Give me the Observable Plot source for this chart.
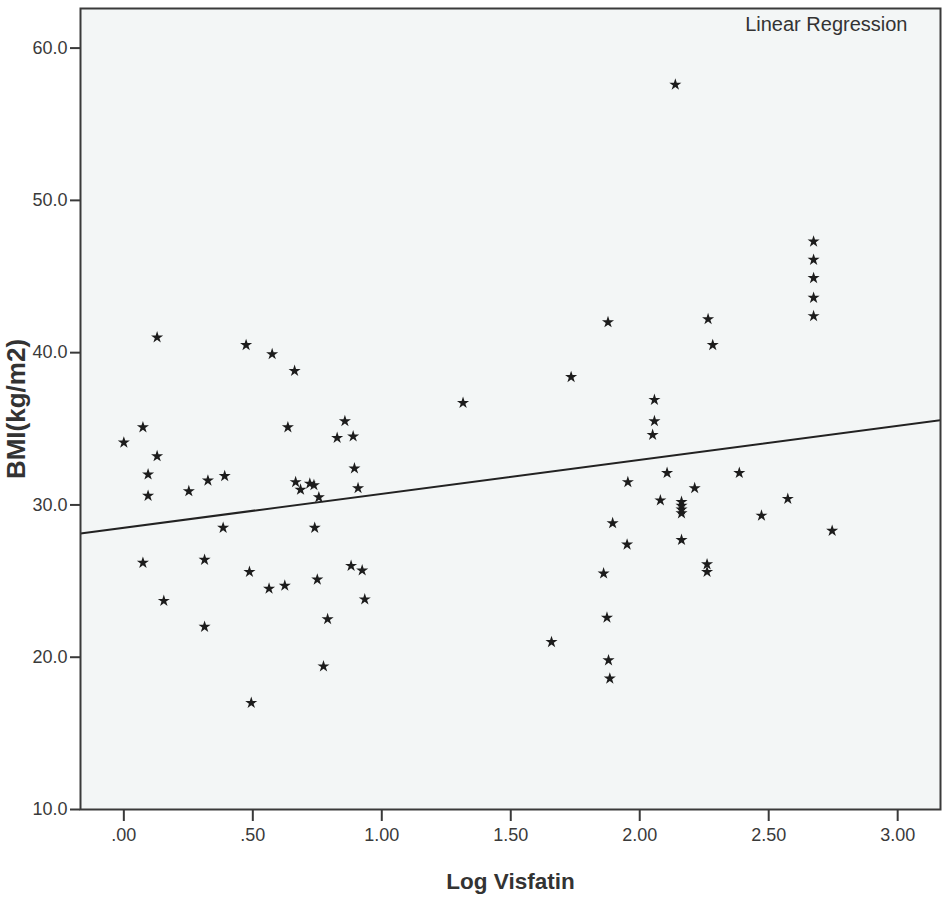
<!DOCTYPE html>
<html>
<head>
<meta charset="utf-8">
<script src="https://cdn.jsdelivr.net/npm/d3@7"></script>
<script src="https://cdn.jsdelivr.net/npm/@observablehq/plot@0.6"></script>
<style>
  html, body { margin: 0; padding: 0; background: #ffffff; }
  #chart svg { display: block; }
</style>
</head>
<body>
<div id="chart"></div>
<script>
// ---- data ----
const logVisfatin = [
  0.00, 0.074, 0.129, 0.129, 0.094, 0.094, 0.074, 0.155, 0.252, 0.313,
  0.313, 0.326, 0.391, 0.385, 0.474, 0.487, 0.494, 0.563, 0.575, 0.624,
  0.636, 0.662, 0.666, 0.685, 0.721, 0.737, 0.756, 0.740, 0.750, 0.774,
  0.790, 0.827, 0.857, 0.881, 0.889, 0.894, 0.908, 0.924, 0.934,
  1.315, 1.658, 1.734, 1.860, 1.873, 1.877, 1.879, 1.884, 1.895, 1.951,
  1.954, 2.050, 2.057, 2.057, 2.080, 2.106, 2.138, 2.162, 2.162, 2.162,
  2.162, 2.162, 2.213, 2.261, 2.261, 2.265, 2.283, 2.386, 2.472, 2.574,
  2.674, 2.674, 2.674, 2.674, 2.674, 2.746
];
const bmi = [
  34.1, 35.1, 41.0, 33.2, 32.0, 30.6, 26.2, 23.7, 30.9, 26.4,
  22.0, 31.6, 31.9, 28.5, 40.5, 25.6, 17.0, 24.5, 39.9, 24.7,
  35.1, 38.8, 31.5, 31.0, 31.4, 31.3, 30.5, 28.5, 25.1, 19.4,
  22.5, 34.4, 35.5, 26.0, 34.5, 32.4, 31.1, 25.7, 23.8,
  36.7, 21.0, 38.4, 25.5, 22.6, 42.0, 19.8, 18.6, 28.8, 27.4,
  31.5, 34.6, 35.5, 36.9, 30.3, 32.1, 57.6, 30.2, 29.95, 29.7,
  29.45, 27.7, 31.1, 26.1, 25.6, 42.2, 40.5, 32.1, 29.3, 30.4,
  47.3, 46.1, 44.9, 43.6, 42.4, 28.3
];
const regressionIntercept = 28.5;
const regressionSlope = 2.23;
const xTicks = [0, 0.5, 1.0, 1.5, 2.0, 2.5, 3.0];
const yTicks = [10, 20, 30, 40, 50, 60];
const xTitle = ["Log Visfatin"];
const yTitle = ["BMI(kg/m2)"];
const fitLabel = ["Linear Regression"];

// ---- scales ----
const xDomain = [-0.168, 3.166];
const yDomain = [10, 62.6];

const points = logVisfatin.map((x, i) => ({x, y: bmi[i]}));
const fitLine = xDomain.map(x => ({x, y: regressionIntercept + regressionSlope * x}));

const chart = Plot.plot({
  width: 946,
  height: 900,
  marginLeft: 80,
  marginRight: 6,
  marginTop: 8,
  marginBottom: 91,
  style: {
    fontFamily: "'Liberation Sans', Arial, sans-serif",
    fontSize: "18px",
    color: "#3a3a3a",
    background: "#ffffff"
  },
  x: {domain: xDomain},
  y: {domain: yDomain},
  marks: [
    Plot.frame({fill: "#f3f6f6", stroke: "none"}),
    Plot.axisX({
      ticks: xTicks,
      tickFormat: d => d.toFixed(2).replace(/^0/, ""),
      tickSize: 12,
      tickPadding: 7,
      strokeWidth: 2,
      label: null
    }),
    Plot.axisY({
      ticks: yTicks,
      tickFormat: d => d.toFixed(1),
      tickSize: 10,
      tickPadding: 3,
      strokeWidth: 2,
      label: null
    }),
    Plot.line(fitLine, {x: "x", y: "y", stroke: "#222", strokeWidth: 2, clip: true}),
    Plot.dot(points, {x: "x", y: "y", symbol: "star", r: 3.8, fill: "#1c1c1c", stroke: "none"}),
    Plot.frame({stroke: "#3a3a3a", strokeWidth: 2}),
    Plot.text(fitLabel, {
      frameAnchor: "top-right", textAnchor: "end", lineAnchor: "top",
      dx: -33, dy: 8, fontSize: 20, fill: "#333"
    }),
    Plot.text(xTitle, {
      frameAnchor: "bottom", textAnchor: "middle", lineAnchor: "middle", dy: 72,
      fontSize: 22.5, fontWeight: "bold", fill: "#333"
    }),
    Plot.text(yTitle, {
      frameAnchor: "left", textAnchor: "middle", rotate: -90, lineAnchor: "middle", dx: -64,
      fontSize: 26, fontWeight: "bold", fill: "#333"
    })
  ]
});

document.getElementById("chart").appendChild(chart);
</script>
</body>
</html>
